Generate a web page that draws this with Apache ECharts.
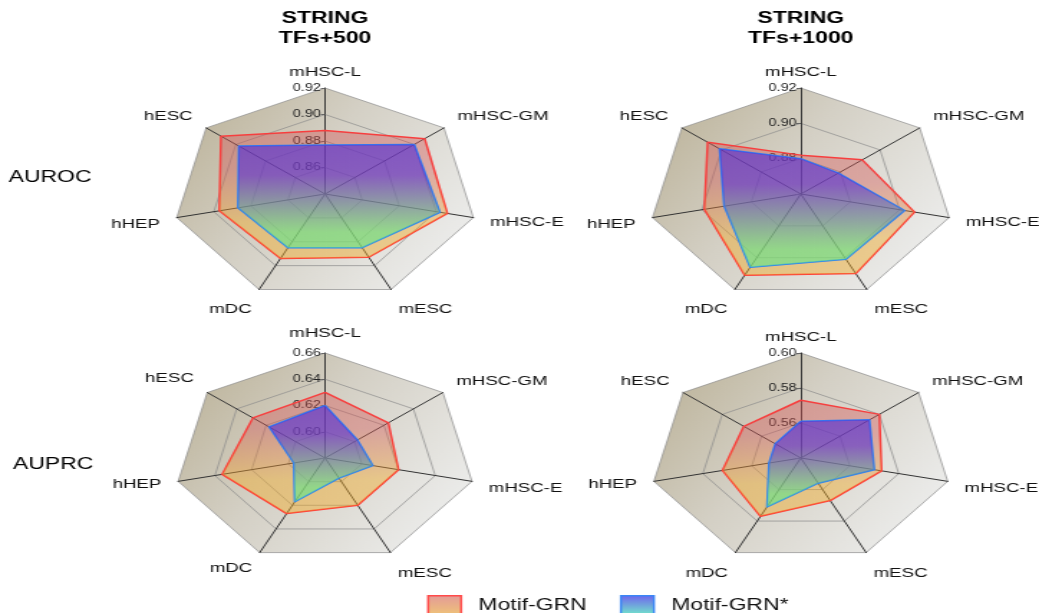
<!DOCTYPE html>
<html>
<head>
<meta charset="utf-8">
<script src="https://cdn.jsdelivr.net/npm/echarts@6/dist/echarts.min.js"></script>
<style>
  html, body { margin: 0; padding: 0; background: #ffffff; overflow: hidden; }
  #wrap { width: 1039px; height: 613px; position: relative; overflow: hidden; }
  #chart { width: 724px; height: 613px; transform: scaleX(1.4351); transform-origin: 0 0; }
</style>
</head>
<body>
<div id="wrap"><div id="chart"></div></div>
<script>
// Indicator order as ECharts lays them out (counter-clockwise from the top)
const categories = ['mHSC-L', 'hESC', 'hHEP', 'mDC', 'mESC', 'mHSC-E', 'mHSC-GM'];
const seriesNames = ['Motif-GRN', 'Motif-GRN*'];
const panelTitles = ['STRING\nTFs+500', 'STRING\nTFs+1000'];
const rowLabels = ['AUROC', 'AUPRC'];

// Axis ranges per panel: [min, max, splitNumber]
const rangeAurocTfs500 = [0.84, 0.92, 4];
const rangeAurocTfs1000 = [0.86, 0.92, 3];
const rangeAuprcTfs500 = [0.58, 0.66, 4];
const rangeAuprcTfs1000 = [0.54, 0.60, 3];

// Values in the order of `categories`
const aurocTfs500Motif = [0.888, 0.910, 0.897, 0.894, 0.893, 0.906, 0.907];
const aurocTfs500MotifStar = [0.877, 0.898, 0.887, 0.885, 0.885, 0.902, 0.900];
const aurocTfs1000Motif = [0.882, 0.907, 0.899, 0.911, 0.910, 0.906, 0.891];
const aurocTfs1000MotifStar = [0.880, 0.901, 0.891, 0.906, 0.901, 0.902, 0.879];
const auprcTfs500Motif = [0.630, 0.629, 0.636, 0.627, 0.620, 0.620, 0.623];
const auprcTfs500MotifStar = [0.620, 0.618, 0.597, 0.617, 0.597, 0.606, 0.602];
const auprcTfs1000Motif = [0.573, 0.569, 0.572, 0.577, 0.567, 0.573, 0.580];
const auprcTfs1000MotifStar = [0.561, 0.553, 0.553, 0.571, 0.556, 0.570, 0.575];

const G = echarts.graphic.LinearGradient;
const FONT = '"Liberation Sans", Arial, Helvetica, sans-serif';

// layout-only nudges of indicator names: [top name gap, vertical shifts of the other names]
const nameLayoutTL = { topGap: 8, shift: [0, -4, 4, 9, 9, 2, -4] };
const nameLayoutTR = { topGap: 8, shift: [0, -4, 4, 9, 9, 2, -4] };
const nameLayoutBL = { topGap: 12, shift: [0, -7, 0, 5, 10, 4, -4] };
const nameLayoutBR = { topGap: 8, shift: [0, -4, 0, 10, 10, 4, -4] };

const panels = [
  { range: rangeAurocTfs500, a: aurocTfs500Motif, b: aurocTfs500MotifStar, center: [226.5, 194], radius: 106, lay: nameLayoutTL },
  { range: rangeAurocTfs1000, a: aurocTfs1000Motif, b: aurocTfs1000MotifStar, center: [558, 194], radius: 106, lay: nameLayoutTR },
  { range: rangeAuprcTfs500, a: auprcTfs500Motif, b: auprcTfs500MotifStar, center: [226.5, 458], radius: 105, lay: nameLayoutBL },
  { range: rangeAuprcTfs1000, a: auprcTfs1000Motif, b: auprcTfs1000MotifStar, center: [558, 458], radius: 105, lay: nameLayoutBR }
];

function bgGradient() {
  return new G(0, 0, 1, 0.6, [
    { offset: 0, color: '#b8ae92' },
    { offset: 0.5, color: '#d4d0c5' },
    { offset: 1, color: '#eaeae8' }
  ]);
}

const rich = { n: { fontSize: 13, color: '#111', fontFamily: FONT, lineHeight: 15 } };
for (let h = 1; h <= 30; h++) rich['sp' + h] = { fontSize: 1, lineHeight: h, height: h };

function nameFormatter(lay) {
  return function (name) {
    const i = categories.indexOf(name);
    const d = i > 0 ? lay.shift[i] : 0;
    if (!d) return '{n|' + name + '}';
    const sp = '{sp' + (2 * Math.abs(d)) + '| }';
    return d > 0 ? sp + '\n{n|' + name + '}' : '{n|' + name + '}\n' + sp;
  };
}

const radars = panels.map(p => ({
  center: p.center,
  radius: p.radius,
  startAngle: 90,
  shape: 'polygon',
  splitNumber: p.range[2],
  nameGap: 12,
  axisName: { color: '#111', fontSize: 13, fontFamily: FONT, formatter: nameFormatter(p.lay), rich: rich },
  indicator: categories.map((c, i) => {
    const ind = { name: c, min: p.range[0], max: p.range[1] };
    if (i === 0) {
      ind.nameGap = p.lay.topGap;
      ind.axisLabel = {
        show: true, fontSize: 10, color: '#222', fontFamily: FONT, margin: 3,
        formatter: v => (Math.abs(v - p.range[0]) < 1e-9 ? '' : v.toFixed(2))
      };
      ind.axisTick = { show: true, length: 3, lineStyle: { color: '#666' } };
    }
    return ind;
  }),
  axisLabel: { show: false },
  axisTick: { show: false },
  axisLine: { lineStyle: { color: '#333', width: 1 } },
  splitLine: { lineStyle: { color: 'rgba(140,140,140,0.7)', width: 1 } },
  splitArea: { show: true, areaStyle: { color: [bgGradient()] } }
}));

const redArea = () => new G(0, 0, 0, 1, [
  { offset: 0, color: 'rgba(212,80,80,0.58)' },
  { offset: 0.3, color: 'rgba(212,86,84,0.58)' },
  { offset: 0.72, color: 'rgba(240,170,40,0.64)' },
  { offset: 1, color: 'rgba(240,170,40,0.66)' }
]);
const blueArea = () => new G(0, 0, 0, 1, [
  { offset: 0, color: 'rgba(88,48,210,0.95)' },
  { offset: 0.3, color: 'rgba(92,56,208,0.93)' },
  { offset: 0.85, color: 'rgba(100,226,140,0.9)' },
  { offset: 1, color: 'rgba(100,230,140,0.9)' }
]);

const series = [];
panels.forEach((p, idx) => {
  series.push({
    type: 'radar', radarIndex: idx, name: seriesNames[0], symbol: 'none', z: 2,
    lineStyle: { color: '#ff3a3a', width: 1.5 },
    itemStyle: { color: '#ff3a3a' },
    areaStyle: { color: redArea() },
    data: [{ value: p.a, name: seriesNames[0] }]
  });
  series.push({
    type: 'radar', radarIndex: idx, name: seriesNames[1], symbol: 'none', z: 3,
    lineStyle: { color: '#2f80f5', width: 1.5 },
    itemStyle: { color: '#2f80f5' },
    areaStyle: { color: blueArea() },
    data: [{ value: p.b, name: seriesNames[1] }]
  });
});

const titles = [
  { text: panelTitles[0], left: 226.5, top: 9, textAlign: 'center' },
  { text: panelTitles[1], left: 558, top: 9, textAlign: 'center' }
].map(t => Object.assign(t, {
  padding: 0,
  textStyle: { fontSize: 16, fontWeight: 'bold', color: '#000', lineHeight: 20, fontFamily: FONT }
}));
titles.push({ text: rowLabels[0], left: 6, top: 168, padding: 0,
  textStyle: { fontSize: 16, fontWeight: 'normal', color: '#000', lineHeight: 20, fontFamily: FONT } });
titles.push({ text: rowLabels[1], left: 9, top: 455, padding: 0,
  textStyle: { fontSize: 16, fontWeight: 'normal', color: '#000', lineHeight: 20, fontFamily: FONT } });

const chart = echarts.init(document.getElementById('chart'), null, { renderer: 'canvas', width: 724, height: 613 });
chart.setOption({
  animation: false,
  backgroundColor: '#ffffff',
  title: titles,
  legend: {
    left: 297.6, top: 595, orient: 'horizontal', padding: 0,
    itemWidth: 23, itemHeight: 20, itemGap: 23,
    textStyle: { fontSize: 16, color: '#111', fontFamily: FONT, padding: [0, 0, 0, 7] },
    data: [
      { name: seriesNames[0], icon: 'rect',
        itemStyle: { color: new G(0, 0, 0, 1, [{ offset: 0, color: '#e39a98' }, { offset: 1, color: '#f0c676' }]), borderColor: '#ff4a4a', borderWidth: 1.5 } },
      { name: seriesNames[1], icon: 'rect',
        itemStyle: { color: new G(0, 0, 0, 1, [{ offset: 0, color: '#6f62ee' }, { offset: 1, color: '#72f0c8' }]), borderColor: '#3a86f5', borderWidth: 1.5 } }
    ]
  },
  radar: radars,
  series: series
});
</script>
</body>
</html>
